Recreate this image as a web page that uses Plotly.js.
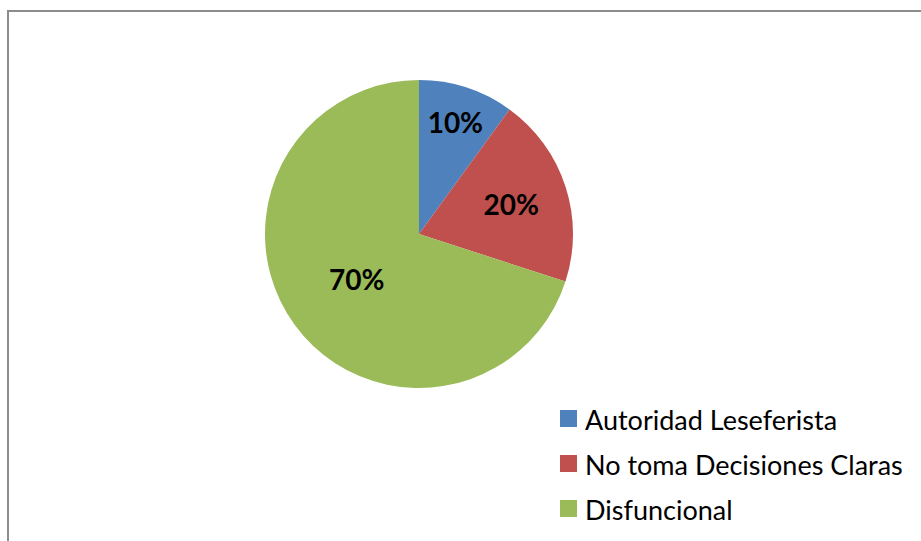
<!DOCTYPE html>
<html><head><meta charset="utf-8">
<script src="https://cdn.plot.ly/plotly-3.0.1.min.js"></script>
<style>html,body{margin:0;padding:0;background:#fff;overflow:hidden}#chart{width:921px;height:541px}</style>
</head><body><div id="chart"></div>
<script>
const categories = ["Autoridad Leseferista", "No toma Decisiones Claras", "Disfuncional"];
const values = [10, 20, 70];
const colors = ["#4F81BD", "#C0504D", "#9BBB59"];

const W = 921, H = 541;
const px = x => x / W, py = y => 1 - y / H;

const trace = {
  type: "pie",
  labels: categories,
  values: values,
  sort: false,
  direction: "clockwise",
  rotation: 0,
  marker: {colors: colors, line: {width: 0}},
  textinfo: "percent",
  texttemplate: "%{percent:.0%}",
  textposition: "inside",
  insidetextorientation: "horizontal",
  textfont: {family: "Lato", size: 28, color: "#000", weight: "bold"},
  domain: {x: [px(265), px(573)], y: [py(388), py(80)]},
  showlegend: false,
  hoverinfo: "label+percent"
};

const shapes = [{
  type: "rect", xref: "paper", yref: "paper",
  x0: px(8), x1: 1.05, y0: -0.05, y1: py(11),
  line: {color: "#8c8c8c", width: 2}, fillcolor: "rgba(0,0,0,0)"
}];
const annotations = [];
const legX = 560, legY0 = 418.5, legGap = 45, sq = 17;
categories.forEach((c, i) => {
  const yc = legY0 + i * legGap;
  shapes.push({type: "rect", xref: "paper", yref: "paper",
    x0: px(legX), x1: px(legX + sq), y0: py(yc + sq / 2), y1: py(yc - sq / 2),
    line: {width: 0}, fillcolor: colors[i]});
  annotations.push({xref: "paper", yref: "paper", x: px(legX + sq + 6), y: py(yc + 1),
    xanchor: "left", yanchor: "middle", showarrow: false, text: c,
    font: {family: "Lato", size: 27, color: "#000"}});
});

Plotly.newPlot("chart", [trace], {
  width: W, height: H,
  margin: {l: 0, r: 0, t: 0, b: 0},
  paper_bgcolor: "#fff",
  showlegend: false,
  shapes: shapes,
  annotations: annotations
}, {displayModeBar: false});
</script></body></html>
